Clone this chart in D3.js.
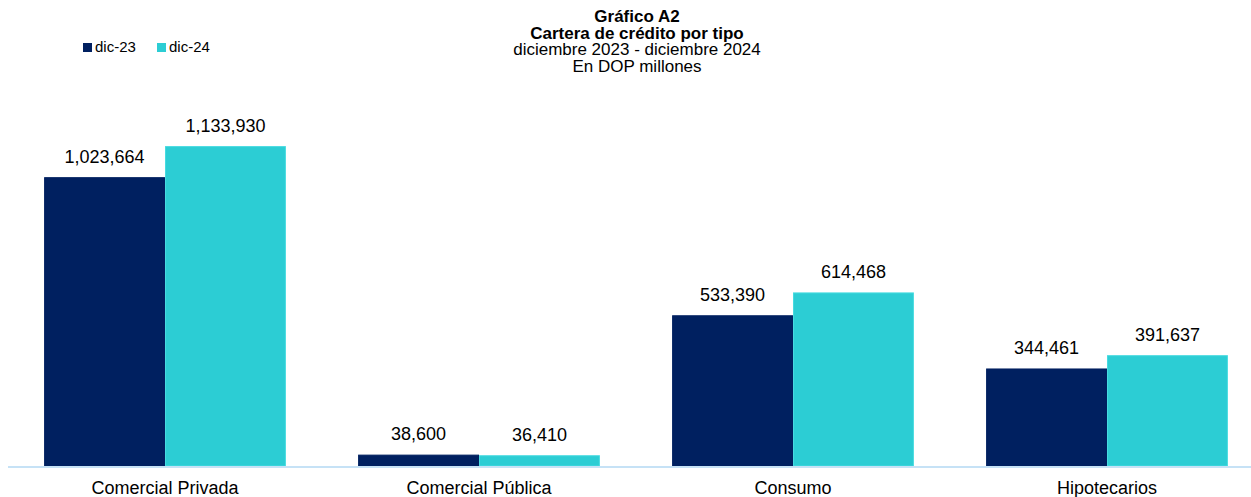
<!DOCTYPE html>
<html>
<head>
<meta charset="utf-8">
<script src="https://cdn.jsdelivr.net/npm/d3@7"></script>
<style>
  body { margin: 0; background: #fff; }
  svg { display: block; font-family: Arial, "Liberation Sans", sans-serif; }
</style>
</head>
<body>
<div id="chart"></div>
<script>
const categories = ["Comercial Privada", "Comercial Pública", "Consumo", "Hipotecarios"];
const seriesNames = ["dic-23", "dic-24"];
const dic23 = [1023664, 38600, 533390, 344461];
const dic24 = [1133930, 36410, 614468, 391637];
const titleLines = ["Gráfico A2", "Cartera de crédito por tipo", "diciembre 2023 - diciembre 2024", "En DOP millones"];

const width = 1251, height = 497;
const colors = { "dic-23": "#002060", "dic-24": "#2ccdd4" };
const borders = { "dic-23": "#002060", "dic-24": "#46dbe0" };

const rows = categories.map((c, i) => ({ cat: c, "dic-23": dic23[i], "dic-24": dic24[i] }));

const svg = d3.select("#chart").append("svg")
  .attr("width", width)
  .attr("height", height);

const x0 = d3.scaleBand()
  .domain(categories)
  .range([8, 1264])
  .paddingInner(0.23)
  .paddingOuter(0.115);

const x1 = d3.scaleBand()
  .domain(seriesNames)
  .range([0, x0.bandwidth()]);

const y = d3.scaleLinear()
  .domain([0, 1200000])
  .range([466, 128]);

const fmt = d3.format(",");

// bars
const group = svg.append("g")
  .selectAll("g")
  .data(rows)
  .join("g")
  .attr("transform", d => `translate(${x0(d.cat)},0)`);

group.selectAll("rect")
  .data(d => seriesNames.map(s => ({ s, v: d[s] })))
  .join("rect")
  .attr("x", d => x1(d.s) + 0.5)
  .attr("y", d => y(d.v))
  .attr("width", x1.bandwidth() - 1)
  .attr("height", d => y(0) - y(d.v))
  .attr("fill", d => colors[d.s])
  .attr("stroke", d => borders[d.s])
  .attr("stroke-width", 1);

group.selectAll("text")
  .data(d => seriesNames.map(s => ({ s, v: d[s] })))
  .join("text")
  .attr("x", d => x1(d.s) + x1.bandwidth() / 2)
  .attr("y", d => y(d.v) - 15)
  .attr("text-anchor", "middle")
  .attr("font-size", 18)
  .attr("fill", "#000")
  .text(d => fmt(d.v));

// axis
svg.append("line")
  .attr("x1", 8).attr("x2", width)
  .attr("y1", y(0) + 1).attr("y2", y(0) + 1)
  .attr("stroke", "#c6e2f6")
  .attr("stroke-width", 2);

svg.append("g")
  .selectAll("text")
  .data(categories)
  .join("text")
  .attr("x", d => x0(d) + x0.bandwidth() / 2)
  .attr("y", 494)
  .attr("text-anchor", "middle")
  .attr("font-size", 18)
  .attr("fill", "#000")
  .text(d => d);

// title
svg.append("g")
  .selectAll("text")
  .data(titleLines)
  .join("text")
  .attr("x", 637)
  .attr("y", (d, i) => 22 + i * 16.5)
  .attr("text-anchor", "middle")
  .attr("font-size", 17)
  .attr("font-weight", (d, i) => i < 2 ? "bold" : "normal")
  .text(d => d);

// legend
const legend = svg.append("g")
  .selectAll("g")
  .data(seriesNames)
  .join("g")
  .attr("transform", (d, i) => `translate(${83 + i * 74},43)`);

legend.append("rect")
  .attr("width", 9).attr("height", 9)
  .attr("fill", d => colors[d]);

legend.append("text")
  .attr("x", 12)
  .attr("y", 9)
  .attr("font-size", 15)
  .text(d => d);
</script>
</body>
</html>
